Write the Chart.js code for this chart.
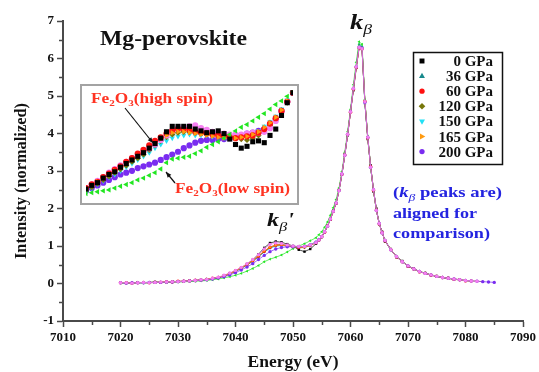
<!DOCTYPE html>
<html>
<head>
<meta charset="utf-8">
<script src="https://cdn.jsdelivr.net/npm/chart.js@4.4.0/dist/chart.umd.min.js"></script>
<style>
  html, body { margin: 0; padding: 0; background: #fff; }
  #wrap { position: relative; width: 539px; height: 372px; }
  #mainChart { position: absolute; left: 0; top: 0; }
  #insetBox { position: absolute; left: 80px; top: 84px; border: 2px solid #a3a3a3; background: #fff; width: 215px; height: 117px; }
  #insetChart { display: block; }
</style>
</head>
<body>
<div id="wrap">
  <canvas id="mainChart" width="539" height="372"></canvas>
  <div id="insetBox"><canvas id="insetChart" width="215" height="117"></canvas></div>
</div>
<script>
// ---- main spectra (energy in eV, normalized intensity) ----
const energy = [
  7020, 7021, 7022, 7023, 7024, 7025, 7026, 7027, 7028, 7029,
  7030, 7031, 7032, 7033, 7034, 7035, 7036, 7037, 7038, 7039,
  7040, 7041, 7042, 7043, 7044, 7045, 7046, 7047, 7048, 7049,
  7050, 7051, 7052, 7053, 7054, 7054.5, 7055, 7055.5, 7056, 7056.5,
  7057, 7057.5, 7058, 7058.5, 7059, 7059.5, 7060, 7060.5, 7061, 7061.5,
  7062, 7062.5, 7063, 7063.5, 7064, 7064.5, 7065, 7065.5, 7066, 7067,
  7068, 7069, 7070, 7071, 7072, 7073, 7074, 7075, 7076, 7077,
  7078, 7079, 7080, 7081, 7082, 7083, 7084, 7085
];
const gpa0 = [
  null, 0.02, 0.01, 0.03, 0.02, 0.02, 0.04, 0.03, 0.03, 0.06,
  0.05, 0.05, 0.08, 0.07, 0.10, 0.10, 0.14, 0.15, 0.21, 0.27,
  0.34, 0.42, 0.52, 0.63, 0.78, 0.95, 1.08, 1.12, 1.10, 1.05,
  1.00, 0.90, 0.85, 0.92, 1.06, 1.15, 1.24, 1.37, 1.55, 1.70,
  1.95, 2.13, 2.50, 2.90, 3.45, 3.95, 4.60, 5.15, 5.75, 6.30,
  6.25, 4.85, 3.85, 3.15, 2.45, 2.00, 1.58, 1.38, 1.12, 0.92,
  0.70, 0.60, 0.45, 0.40, 0.31, 0.28, 0.22, 0.20, 0.15, 0.15,
  0.11, 0.10, null, null, null, null, null, null
];
const gpa36 = [
  0.01, 0.02, 0.02, 0.01, 0.03, 0.03, 0.02, 0.04, 0.04, 0.05,
  0.05, 0.06, 0.06, 0.08, 0.09, 0.12, 0.13, 0.17, 0.20, 0.25,
  0.32, 0.40, 0.49, 0.59, 0.71, 0.84, 0.95, 1.01, 1.03, 1.02,
  1.00, 0.98, 0.99, 1.04, 1.11, 1.18, 1.26, 1.39, 1.52, 1.73,
  1.94, 2.16, 2.47, 2.93, 3.40, 4.00, 4.60, 5.22, 5.80, 6.38,
  6.32, 4.80, 3.92, 3.08, 2.52, 1.94, 1.61, 1.34, 1.16, 0.89,
  0.73, 0.57, 0.48, 0.38, 0.33, 0.26, 0.23, 0.18, 0.17, 0.13,
  0.12, 0.09, 0.08, 0.06, null, null, null, null
];
const gpa60 = [
  0.02, 0.02, 0.01, 0.02, 0.03, 0.02, 0.03, 0.03, 0.05, 0.04,
  0.06, 0.06, 0.07, 0.09, 0.09, 0.11, 0.14, 0.16, 0.21, 0.27,
  0.34, 0.42, 0.51, 0.61, 0.73, 0.86, 0.96, 1.02, 1.03, 1.01,
  0.98, 0.96, 0.98, 1.02, 1.09, 1.16, 1.25, 1.37, 1.54, 1.71,
  1.92, 2.14, 2.49, 2.91, 3.43, 3.97, 4.57, 5.18, 5.76, 6.28,
  6.26, 4.86, 3.88, 3.12, 2.48, 1.96, 1.59, 1.36, 1.14, 0.91,
  0.71, 0.58, 0.46, 0.39, 0.31, 0.27, 0.22, 0.19, 0.16, 0.14,
  0.11, 0.10, 0.07, 0.07, null, null, null, null
];
const gpa120 = [
  null, 0.01, 0.02, 0.03, 0.02, 0.03, 0.04, 0.03, 0.04, 0.04,
  0.05, 0.07, 0.07, 0.08, 0.10, 0.11, 0.13, 0.16, 0.20, 0.26,
  0.33, 0.41, 0.50, 0.60, 0.73, 0.86, 0.97, 1.03, 1.04, 1.02,
  0.99, 0.95, 0.96, 1.01, 1.09, 1.16, 1.24, 1.38, 1.52, 1.72,
  1.93, 2.15, 2.48, 2.92, 3.41, 3.99, 4.58, 5.21, 5.78, 6.31,
  6.27, 4.84, 3.89, 3.11, 2.49, 1.95, 1.60, 1.35, 1.15, 0.90,
  0.72, 0.59, 0.47, 0.38, 0.32, 0.28, 0.23, 0.19, 0.16, 0.14,
  0.12, 0.10, 0.08, null, null, null, null, null
];
const gpa150 = [
  0.02, 0.02, 0.02, 0.02, 0.02, 0.03, 0.03, 0.04, 0.04, 0.04,
  0.05, 0.06, 0.07, 0.08, 0.09, 0.11, 0.13, 0.17, 0.21, 0.26,
  0.33, 0.41, 0.50, 0.60, 0.72, 0.84, 0.94, 0.99, 1.01, 1.00,
  0.99, 0.98, 0.99, 1.03, 1.10, 1.17, 1.25, 1.38, 1.53, 1.72,
  1.93, 2.15, 2.48, 2.92, 3.42, 3.98, 4.58, 5.20, 5.79, 6.33,
  6.30, 4.82, 3.90, 3.10, 2.50, 1.95, 1.60, 1.35, 1.15, 0.90,
  0.72, 0.58, 0.47, 0.39, 0.32, 0.27, 0.23, 0.19, 0.16, 0.14,
  0.12, 0.10, 0.08, 0.07, null, null, null, null
];
const gpa165 = [
  0.02, 0.02, 0.02, 0.03, 0.02, 0.03, 0.03, 0.04, 0.05, 0.04,
  0.05, 0.06, 0.08, 0.08, 0.09, 0.12, 0.13, 0.16, 0.20, 0.26,
  0.33, 0.42, 0.51, 0.61, 0.74, 0.87, 0.97, 1.02, 1.03, 1.01,
  0.98, 0.97, 0.98, 1.02, 1.10, 1.17, 1.25, 1.39, 1.53, 1.72,
  1.93, 2.15, 2.48, 2.92, 3.42, 3.98, 4.58, 5.20, 5.77, 6.30,
  6.28, 4.85, 3.90, 3.10, 2.50, 1.95, 1.60, 1.35, 1.15, 0.90,
  0.72, 0.58, 0.47, 0.39, 0.32, 0.27, 0.23, 0.20, 0.16, 0.14,
  0.12, 0.10, 0.08, 0.07, 0.06, 0.05, null, null
];
const gpa200 = [
  0.02, 0.01, 0.02, 0.02, 0.02, 0.03, 0.03, 0.03, 0.04, 0.04,
  0.05, 0.06, 0.07, 0.08, 0.09, 0.10, 0.12, 0.15, 0.18, 0.23,
  0.29, 0.36, 0.44, 0.53, 0.64, 0.75, 0.85, 0.92, 0.96, 0.98,
  0.98, 0.98, 0.99, 1.03, 1.10, 1.17, 1.25, 1.38, 1.53, 1.72,
  1.93, 2.15, 2.48, 2.92, 3.42, 3.98, 4.58, 5.20, 5.78, 6.30,
  6.28, 4.83, 3.90, 3.10, 2.50, 1.95, 1.60, 1.35, 1.15, 0.90,
  0.72, 0.58, 0.47, 0.39, 0.32, 0.27, 0.23, 0.19, 0.16, 0.14,
  0.12, 0.10, 0.08, 0.07, 0.06, 0.05, 0.04, 0.03
];
const fe2o3High = [
  0.02, 0.02, 0.01, 0.02, 0.03, 0.02, 0.03, 0.04, 0.04, 0.05,
  0.05, 0.06, 0.07, 0.08, 0.10, 0.11, 0.14, 0.17, 0.22, 0.28,
  0.35, 0.43, 0.53, 0.64, 0.77, 0.92, 1.04, 1.08, 1.07, 1.03,
  1.00, 0.99, 0.99, 1.03, 1.09, 1.16, 1.25, 1.38, 1.53, 1.72,
  1.93, 2.15, 2.48, 2.92, 3.42, 3.98, 4.58, 5.20, 5.78, 6.30,
  6.26, 4.85, 3.90, 3.10, 2.50, 1.95, 1.60, 1.35, 1.15, 0.90,
  0.72, 0.58, 0.47, 0.39, 0.32, 0.27, 0.23, 0.19, 0.16, 0.14,
  0.12, 0.10, 0.08, 0.07, 0.06, null, null, null
];
const fe2o3Low = [
  0.01, 0.01, 0.01, 0.02, 0.02, 0.02, 0.03, 0.03, 0.03, 0.04,
  0.04, 0.05, 0.05, 0.06, 0.07, 0.08, 0.10, 0.12, 0.15, 0.18,
  0.22, 0.27, 0.33, 0.40, 0.48, 0.58, 0.65, 0.70, 0.76, 0.84,
  0.93, 1.00, 1.06, 1.14, 1.22, 1.30, 1.38, 1.50, 1.64, 1.82,
  2.02, 2.24, 2.55, 2.98, 3.50, 4.05, 4.65, 5.30, 5.90, 6.45,
  6.38, 4.90, 3.92, 3.10, 2.48, 1.95, 1.60, 1.35, 1.15, 0.90,
  0.72, 0.58, 0.47, 0.39, 0.32, 0.27, 0.23, 0.19, 0.16, 0.14,
  0.12, 0.10, 0.08, 0.07, 0.06, null, null, null
];

// ---- inset: close-up of the k-beta' shoulder ----
const insetEnergy = [
  7038, 7038.5, 7039, 7039.5, 7040, 7040.5, 7041, 7041.5, 7042, 7042.5,
  7043, 7043.5, 7044, 7044.5, 7045, 7045.5, 7046, 7046.5, 7047, 7047.5,
  7048, 7048.5, 7049, 7049.5, 7050, 7050.5, 7051, 7051.5, 7052, 7052.5,
  7053, 7053.5, 7054, 7054.5, 7055, 7055.5, 7056
];
const inset0 = [0.31,0.35,0.38,0.43,0.47,0.50,0.55,0.59,0.63,0.67,0.71,0.76,0.81,0.87,0.94,1.00,1.00,1.00,1.00,0.97,0.95,0.93,0.94,0.95,0.92,0.86,0.80,0.76,0.78,0.83,0.84,0.82,0.90,0.97,1.12,1.26,1.37];
const inset36 = [0.30,0.34,0.38,0.42,0.46,0.50,0.54,0.58,0.62,0.66,0.70,0.75,0.80,0.85,0.89,0.92,0.94,0.95,0.95,0.94,0.93,0.92,0.91,0.90,0.89,0.88,0.88,0.88,0.89,0.91,0.94,0.99,1.04,1.10,1.18,1.28,1.38];
const inset60 = [0.32,0.36,0.39,0.44,0.48,0.52,0.56,0.61,0.65,0.70,0.74,0.79,0.84,0.88,0.92,0.95,0.97,0.97,0.96,0.94,0.93,0.92,0.91,0.90,0.89,0.88,0.87,0.88,0.89,0.90,0.93,0.97,1.03,1.09,1.17,1.27,1.37];
const inset120 = [0.30,0.33,0.37,0.41,0.45,0.49,0.53,0.57,0.61,0.65,0.69,0.74,0.79,0.84,0.88,0.91,0.93,0.94,0.94,0.93,0.93,0.92,0.92,0.91,0.90,0.89,0.88,0.86,0.85,0.87,0.90,0.95,1.01,1.08,1.16,1.26,1.37];
const inset150 = [0.28,0.32,0.36,0.40,0.44,0.47,0.51,0.55,0.59,0.63,0.67,0.71,0.76,0.80,0.84,0.87,0.89,0.90,0.91,0.90,0.90,0.90,0.89,0.89,0.88,0.89,0.89,0.89,0.90,0.92,0.95,1.00,1.05,1.11,1.19,1.29,1.38];
const inset165 = [0.31,0.35,0.39,0.43,0.47,0.51,0.55,0.59,0.63,0.67,0.71,0.76,0.81,0.86,0.90,0.93,0.94,0.94,0.93,0.92,0.91,0.90,0.89,0.88,0.87,0.87,0.87,0.88,0.89,0.91,0.94,0.99,1.04,1.10,1.18,1.28,1.38];
const inset200 = [0.29,0.32,0.35,0.38,0.41,0.44,0.47,0.49,0.51,0.54,0.56,0.58,0.60,0.63,0.66,0.69,0.72,0.76,0.79,0.82,0.84,0.85,0.85,0.86,0.86,0.87,0.88,0.90,0.92,0.93,0.95,0.97,1.02,1.08,1.17,1.27,1.37];
const insetHigh = [0.32,0.36,0.40,0.44,0.49,0.53,0.57,0.61,0.65,0.69,0.72,0.76,0.80,0.85,0.90,0.95,0.98,0.99,1.00,1.01,0.98,0.96,0.94,0.93,0.92,0.91,0.91,0.91,0.92,0.93,0.93,0.94,0.98,1.06,1.16,1.27,1.38];
const insetLow = [0.26,0.27,0.28,0.29,0.30,0.32,0.34,0.36,0.38,0.41,0.43,0.46,0.49,0.53,0.60,0.64,0.65,0.66,0.67,0.70,0.73,0.77,0.80,0.83,0.87,0.91,0.95,0.99,1.02,1.06,1.10,1.14,1.19,1.24,1.28,1.33,1.38];

const seriesLabels = ['0 GPa', '36 GPa', '60 GPa', '120 GPa', '150 GPa', '165 GPa', '200 GPa', 'Fe2O3 (high spin)', 'Fe2O3 (low spin)'];
const mainSeries = [gpa0, gpa36, gpa60, gpa120, gpa150, gpa165, gpa200, fe2o3High, fe2o3Low];
const insetSeries = [inset0, inset36, inset60, inset120, inset150, inset165, inset200, insetHigh, insetLow];

const xTickValues = [7010, 7020, 7030, 7040, 7050, 7060, 7070, 7080, 7090];
const xMinorValues = [7015, 7025, 7035, 7045, 7055, 7065, 7075, 7085];
const yTickValues = [-1, 0, 1, 2, 3, 4, 5, 6, 7];
const yMinorValues = [-0.5, 0.5, 1.5, 2.5, 3.5, 4.5, 5.5, 6.5];

// marker look per series (same order as seriesLabels)
const looks = [
  { color: '#000000', shape: 'rect',     rot: 0,   order: 0, mainOrder: 5 },
  { color: '#17898c', shape: 'triangle', rot: 0,   order: 7, mainOrder: 7 },
  { color: '#ff1010', shape: 'circle',   rot: 0,   order: 3, mainOrder: 4 },
  { color: '#77770a', shape: 'rectRot',  rot: 0,   order: 5, mainOrder: 6 },
  { color: '#22e0f5', shape: 'triangle', rot: 180, order: 6, mainOrder: 8 },
  { color: '#ff9a10', shape: 'triangle', rot: 90,  order: 2, mainOrder: 2 },
  { color: '#7a2cf0', shape: 'circle',   rot: 0,   order: 8, mainOrder: 1 },
  { color: '#f57ef0', shape: 'circle',   rot: 0,   order: 4, mainOrder: 0 },
  { color: '#22e622', shape: 'triangle', rot: 270, order: 1, mainOrder: 3 }
];

const SERIF = '"Liberation Serif", "Times New Roman", serif';
const B = n => 'bold ' + n + 'px ' + SERIF;
const BI = n => 'italic bold ' + n + 'px ' + SERIF;
const I = n => 'italic ' + n + 'px ' + SERIF;

function toPoints(xs, ys) {
  return xs.map((x, i) => ({ x: x, y: ys[i] })).filter(p => p.y !== null);
}

// draw a run of text pieces, squeezed/stretched to a given width
function richText(ctx, parts, x, y, width, align) {
  let total = 0;
  parts.forEach(p => { ctx.font = p.f; p.w = ctx.measureText(p.t).width; total += p.w; });
  const sx = width ? width / total : 1;
  ctx.save();
  ctx.translate(x, y);
  ctx.scale(sx, 1);
  let cx = 0;
  if (align === 'right') cx = -total;
  if (align === 'center') cx = -total / 2;
  ctx.textBaseline = 'alphabetic';
  ctx.textAlign = 'left';
  parts.forEach(p => {
    ctx.font = p.f;
    ctx.fillText(p.t, cx, p.dy || 0);
    cx += p.w;
  });
  ctx.restore();
}

function marker(ctx, look, x, y, r) {
  ctx.save();
  ctx.fillStyle = look.color;
  ctx.translate(x, y);
  ctx.rotate(look.rot * Math.PI / 180);
  ctx.beginPath();
  if (look.shape === 'rect') {
    ctx.rect(-r * 0.75, -r * 0.75, r * 1.5, r * 1.5);
  } else if (look.shape === 'rectRot') {
    ctx.moveTo(0, -r); ctx.lineTo(r, 0); ctx.lineTo(0, r); ctx.lineTo(-r, 0); ctx.closePath();
  } else if (look.shape === 'triangle') {
    ctx.moveTo(0, -r); ctx.lineTo(r * 0.9, r * 0.6); ctx.lineTo(-r * 0.9, r * 0.6); ctx.closePath();
  } else {
    ctx.arc(0, 0, r * 0.8, 0, Math.PI * 2);
  }
  ctx.fill();
  ctx.restore();
}

function arrow(ctx, x1, y1, x2, y2) {
  const a = Math.atan2(y2 - y1, x2 - x1);
  ctx.save();
  ctx.strokeStyle = '#111';
  ctx.fillStyle = '#111';
  ctx.lineWidth = 1.2;
  ctx.beginPath(); ctx.moveTo(x1, y1); ctx.lineTo(x2, y2); ctx.stroke();
  ctx.beginPath();
  ctx.moveTo(x2, y2);
  ctx.lineTo(x2 - 6 * Math.cos(a - 0.4), y2 - 6 * Math.sin(a - 0.4));
  ctx.lineTo(x2 - 6 * Math.cos(a + 0.4), y2 - 6 * Math.sin(a + 0.4));
  ctx.closePath(); ctx.fill();
  ctx.restore();
}

const mainDecor = {
  id: 'mainDecor',
  afterDraw(chart) {
    const ctx = chart.ctx;
    const xs = chart.scales.x, ys = chart.scales.y;
    const area = chart.chartArea;
    ctx.save();
    // minor ticks
    ctx.strokeStyle = '#4a4a4a';
    ctx.lineWidth = 1.5;
    xMinorValues.forEach(v => {
      const px = Math.round(xs.getPixelForValue(v)) + 0.5;
      ctx.beginPath(); ctx.moveTo(px, area.bottom); ctx.lineTo(px, area.bottom + 4); ctx.stroke();
    });
    yMinorValues.forEach(v => {
      const py = Math.round(ys.getPixelForValue(v)) + 0.5;
      ctx.beginPath(); ctx.moveTo(area.left, py); ctx.lineTo(area.left - 4, py); ctx.stroke();
    });

    ctx.fillStyle = '#111';
    // axis titles
    richText(ctx, [{ t: 'Energy (eV)', f: B(16) }], 293, 367, 91, 'center');
    ctx.save();
    ctx.translate(26, 181);
    ctx.rotate(-Math.PI / 2);
    richText(ctx, [{ t: 'Intensity (normalized)', f: B(16) }], 0, 0, 156, 'center');
    ctx.restore();

    // plot title and peak labels
    richText(ctx, [{ t: 'Mg-perovskite', f: B(22) }], 100, 45, 147);
    richText(ctx, [{ t: 'k', f: BI(21) }, { t: 'β', f: I(14), dy: 5 }], 350, 29, 22);
    richText(ctx, [{ t: 'k', f: BI(19) }, { t: 'β', f: I(13), dy: 5 }, { t: "'", f: BI(19) }], 267, 226, 27);

    // blue note
    ctx.fillStyle = '#2424e0';
    richText(ctx, [{ t: '(', f: B(15) }, { t: 'k', f: BI(15) }, { t: 'β', f: I(11), dy: 4 }, { t: ' peaks are)', f: B(15) }], 393, 197, 109);
    richText(ctx, [{ t: 'aligned for', f: B(15) }], 393, 218, 84);
    richText(ctx, [{ t: 'comparison)', f: B(15) }], 393, 238, 97);

    // legend box
    ctx.strokeStyle = '#111';
    ctx.lineWidth = 1.5;
    ctx.strokeRect(413.5, 52.5, 89, 112);
    ctx.fillStyle = '#111';
    for (let i = 0; i < 7; i++) {
      const yy = 61 + i * 15.1;
      marker(ctx, looks[i], 422, yy, 3.3);
      ctx.fillStyle = '#111';
      richText(ctx, [{ t: seriesLabels[i], f: B(15) }], 493, yy + 5, null, 'right');
    }
    ctx.restore();
  }
};

const insetDecor = {
  id: 'insetDecor',
  afterDraw(chart) {
    const ctx = chart.ctx;
    ctx.save();
    ctx.translate(-82, -86); // work in page coordinates
    ctx.fillStyle = '#ff3322';
    richText(ctx, [{ t: 'Fe', f: B(14) }, { t: '2', f: B(9), dy: 3 }, { t: 'O', f: B(14) }, { t: '3', f: B(9), dy: 3 }, { t: '(high spin)', f: B(14) }], 91, 103, 122);
    richText(ctx, [{ t: 'Fe', f: B(14) }, { t: '2', f: B(9), dy: 3 }, { t: 'O', f: B(14) }, { t: '3', f: B(9), dy: 3 }, { t: '(low spin)', f: B(14) }], 175, 193, 115);
    arrow(ctx, 125, 108, 153, 143);
    arrow(ctx, 175, 183, 166, 172);
    ctx.restore();
  }
};

const tickFont = { family: SERIF, weight: 'bold', size: 13 };

new Chart(document.getElementById('mainChart'), {
  type: 'scatter',
  data: {
    datasets: mainSeries.map((vals, i) => ({
      label: seriesLabels[i],
      data: toPoints(energy, vals),
      showLine: true,
      borderColor: looks[i].color,
      borderWidth: 0.7,
      backgroundColor: looks[i].color,
      pointBackgroundColor: looks[i].color,
      pointBorderWidth: 0,
      pointStyle: looks[i].shape,
      pointRotation: looks[i].rot,
      pointRadius: 1.7,
      order: looks[i].mainOrder
    }))
  },
  options: {
    responsive: false,
    animation: false,
    layout: { padding: { left: 0, right: 15, top: 21, bottom: 0 } },
    plugins: { legend: { display: false }, tooltip: { enabled: false } },
    scales: {
      x: {
        type: 'linear', min: 7010, max: 7090,
        afterBuildTicks: s => { s.ticks = xTickValues.map(v => ({ value: v })); },
        afterFit: s => { s.height = 51; },
        ticks: { font: tickFont, color: '#111', padding: 3, maxRotation: 0, autoSkip: false, callback: v => String(v) },
        grid: { display: true, drawOnChartArea: false, drawTicks: true, tickLength: 6, color: '#4a4a4a', tickWidth: 1.5 },
        border: { display: true, color: '#4a4a4a', width: 2 }
      },
      y: {
        min: -1, max: 7,
        afterBuildTicks: s => { s.ticks = yTickValues.map(v => ({ value: v })); },
        afterFit: s => { s.width = 63; },
        ticks: { font: tickFont, color: '#111', padding: 3, callback: v => String(v) },
        grid: { display: true, drawOnChartArea: false, drawTicks: true, tickLength: 6, color: '#4a4a4a', tickWidth: 1.5 },
        border: { display: true, color: '#4a4a4a', width: 2 }
      }
    }
  },
  plugins: [mainDecor]
});

new Chart(document.getElementById('insetChart'), {
  type: 'scatter',
  data: {
    datasets: insetSeries.map((vals, i) => ({
      label: seriesLabels[i],
      data: toPoints(insetEnergy, vals),
      showLine: false,
      backgroundColor: looks[i].color,
      pointBackgroundColor: looks[i].color,
      pointBorderWidth: 0,
      pointStyle: looks[i].shape,
      pointRotation: looks[i].rot,
      pointRadius: looks[i].shape === 'rect' ? 3.6 : 3.1,
      order: looks[i].order
    }))
  },
  options: {
    responsive: false,
    animation: false,
    layout: { padding: 0 },
    plugins: { legend: { display: false }, tooltip: { enabled: false } },
    scales: {
      x: { type: 'linear', min: 7038, max: 7056, display: false },
      y: { min: 0.2, max: 1.4, display: false }
    }
  },
  plugins: [insetDecor]
});
</script>
</body>
</html>
